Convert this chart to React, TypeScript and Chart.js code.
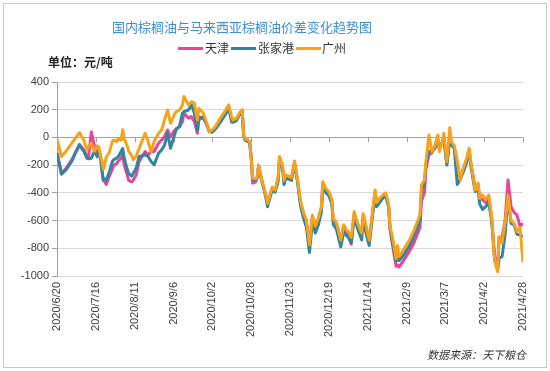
import React, { useEffect, useRef } from "react";
import { Chart, registerables } from "chart.js";

Chart.register(...registerables);

// day offsets from 2020/6/20
const days = [0,3,6,10,12,15,18,20,21,23,25,27,28,29,30,31,32,33,35,37,38,40,41,43,44,45,47,48,50,51,53,55,59,61,63,65,68,70,72,74,76,79,80,82,84,85,88,90,92,94,95,98,100,102,104,106,110,113,115,117,118,120,122,124,125,126,128,129,130,131,133,134,135,137,139,141,144,146,148,149,151,152,153,155,157,159,161,163,165,167,169,171,173,175,177,178,180,182,184,185,187,190,192,194,195,197,199,201,202,204,205,208,209,211,213,214,216,218,220,222,223,225,227,228,229,232,236,239,243,244,246,247,249,251,253,255,256,258,259,261,263,264,266,268,270,272,274,276,277,279,280,282,283,285,287,289,291,293,295,296,298,300,302,304,306,308,310,312];

const guangzhou = [-10,-138,-100,-40,-10,35,-20,-90,-70,-40,-100,-60,-70,-130,-170,-230,-190,-140,-110,-30,-20,-30,-10,-20,55,-10,-60,-100,-130,-160,-138,-78,30,-30,-102,-30,30,54,126,198,102,175,186,198,234,295,234,258,246,126,210,175,114,42,54,78,150,198,235,140,126,135,175,200,20,-10,-18,-30,-138,-294,-300,-280,-198,-300,-380,-475,-360,-380,-290,-138,-200,-310,-270,-280,-290,-170,-300,-460,-540,-600,-775,-560,-640,-580,-500,-320,-370,-390,-450,-590,-610,-740,-630,-670,-680,-720,-535,-610,-640,-690,-550,-690,-740,-560,-380,-470,-440,-415,-400,-480,-644,-740,-873,-780,-860,-810,-740,-670,-560,-343,-307,-175,18,-102,-60,18,-102,-30,30,-175,70,-30,-60,-170,-307,-220,-160,-78,-175,-307,-380,-330,-440,-415,-450,-415,-572,-885,-969,-716,-760,-620,-415,-600,-620,-680,-650,-900];

const zhangjiagang = [-115,-265,-235,-170,-120,-55,-100,-150,-155,-150,-100,-140,-90,-130,-230,-310,-300,-310,-250,-175,-160,-150,-140,-100,-80,-150,-230,-260,-280,-260,-222,-138,-126,-138,-174,-198,-114,-90,-54,30,-78,30,60,78,175,186,198,234,175,54,150,138,100,42,40,60,120,170,210,110,110,120,160,190,10,-20,-30,-40,-145,-300,-310,-290,-210,-310,-395,-500,-380,-395,-320,-160,-220,-340,-300,-300,-310,-190,-320,-490,-580,-650,-830,-610,-690,-630,-540,-350,-400,-420,-480,-630,-660,-790,-680,-710,-720,-760,-570,-650,-680,-740,-600,-740,-780,-590,-410,-500,-470,-440,-420,-500,-660,-780,-890,-870,-890,-850,-780,-710,-600,-380,-330,-200,-100,-100,-80,-20,-60,-40,-10,-200,-20,-50,-80,-340,-300,-250,-190,-100,-200,-330,-390,-380,-480,-520,-500,-470,-600,-880,-960,-870,-860,-700,-430,-620,-630,-700,-700,-720];

const tianjin = [-110,-255,-225,-160,-115,-50,-90,-140,-150,40,-60,-110,-100,-130,-230,-310,-320,-340,-280,-230,-200,-190,-170,-150,-120,-200,-270,-310,-320,-310,-270,-174,-102,-126,-102,-102,-42,-18,6,54,6,54,65,78,115,175,140,150,114,30,126,150,100,42,40,65,130,180,215,120,120,125,165,195,15,-15,-25,-35,-140,-330,-320,-290,-205,-305,-385,-480,-370,-385,-300,-150,-210,-315,-280,-290,-300,-180,-305,-470,-550,-610,-790,-570,-650,-590,-510,-330,-380,-400,-460,-600,-620,-740,-640,-680,-700,-770,-550,-620,-650,-700,-560,-700,-745,-570,-390,-480,-450,-425,-410,-490,-660,-800,-930,-920,-935,-890,-820,-760,-650,-460,-400,-230,-126,-110,-70,-40,-80,-30,0,-190,20,-40,-70,-190,-300,-230,-170,-90,-185,-300,-370,-350,-440,-450,-470,-430,-580,-860,-920,-720,-720,-600,-307,-500,-540,-560,-640,-620];

const yTicks = [-1000, -800, -600, -400, -200, 0, 200, 400];
const startDate = Date.UTC(2020, 5, 20);

function dayLabel(d: number): string {
  const dt = new Date(startDate + d * 86400000);
  return `${dt.getUTCFullYear()}/${dt.getUTCMonth() + 1}/${dt.getUTCDate()}`;
}

const zeroTicks = {
  id: "zeroTicks",
  beforeDatasetsDraw(chart: any) {
    const xs = chart.scales.x;
    const ys = chart.scales.y;
    const ctx = chart.ctx;
    const y0 = ys.getPixelForValue(0);
    ctx.save();
    ctx.strokeStyle = "#a0a0a0";
    ctx.lineWidth = 1;
    ctx.beginPath();
    for (const t of xs.ticks) {
      const x = Math.round(xs.getPixelForValue(t.value)) + 0.5;
      ctx.moveTo(x, y0);
      ctx.lineTo(x, y0 + 5);
    }
    ctx.stroke();
    ctx.restore();
  },
};

export default function App() {
  const ref = useRef<HTMLCanvasElement>(null);
  useEffect(() => {
    document.body.style.margin = "0";
    const mk = (arr: number[]) => days.map((d, i) => ({ x: d, y: arr[i] }));
    const chart = new Chart(ref.current!, {
      type: "line",
      data: {
        datasets: [
          { label: "天津", data: mk(tianjin), borderColor: "#e8449a", order: 2 },
          { label: "张家港", data: mk(zhangjiagang), borderColor: "#31859c", order: 1 },
          { label: "广州", data: mk(guangzhou), borderColor: "#f7a21c", order: 0 },
        ].map((d) => ({
          ...d,
          borderWidth: 3,
          pointRadius: 0,
          tension: 0,
          fill: false,
          borderJoinStyle: "round" as const,
        })),
      },
      options: {
        animation: false,
        responsive: false,
        devicePixelRatio: 1,
        layout: { padding: { top: 82, right: 27, bottom: 30, left: 0 } },
        plugins: { legend: { display: false }, tooltip: { enabled: false }, title: { display: false } },
        scales: {
          x: {
            type: "linear",
            min: 0,
            max: 312,
            grid: { display: false, drawTicks: false },
            border: { display: false },
            afterFit: (s: any) => { s.height = 65; },
            afterBuildTicks: (s: any) => {
              const t = [];
              for (let v = 0; v <= 312; v += 26) t.push({ value: v });
              s.ticks = t;
            },
            ticks: {
              autoSkip: false,
              maxRotation: 90,
              minRotation: 90,
              padding: 6,
              color: "#404040",
              font: { family: "'Liberation Sans', Arial", size: 11 },
              callback: (v: any) => dayLabel(Number(v)),
            },
          },
          y: {
            min: -1000,
            max: 400,
            afterFit: (s: any) => { s.width = 57; },
            afterBuildTicks: (s: any) => { s.ticks = yTicks.map((v) => ({ value: v })); },
            grid: {
              color: (c: any) => (c.tick && c.tick.value === 0 ? "#a6a6a6" : "#d9d9d9"),
              tickLength: 5,
              tickColor: "#a0a0a0",
            },
            border: { display: true, color: "#a0a0a0" },
            ticks: {
              padding: 3,
              color: "#404040",
              font: { family: "'Liberation Sans', Arial", size: 11 },
              callback: (v: any) => String(v),
            },
          },
        },
      },
      plugins: [zeroTicks],
    });
    return () => chart.destroy();
  }, []);

  const cjk = "'Noto Sans CJK SC', 'Noto Sans', sans-serif";
  const legendItem = (left: number, color: string, textLeft: number, text: string) => (
    <>
      <div style={{ position: "absolute", left, top: 47, width: 25, height: 3, background: color }} />
      <div style={{ position: "absolute", left: textLeft, top: 40, fontSize: 12, lineHeight: "16px", color: "#333", fontFamily: cjk, whiteSpace: "nowrap" }}>{text}</div>
    </>
  );

  return (
    <div style={{ position: "relative", width: 550, height: 371, background: "#fff", overflow: "hidden" }}>
      <div style={{ position: "absolute", left: 3, top: 3, width: 542, height: 363, border: "1px solid #c8c8c8" }} />
      <canvas ref={ref} width={550} height={371} style={{ position: "absolute", left: 0, top: 0, width: 550, height: 371 }} />
      <div style={{ position: "absolute", left: 112, top: 18, fontSize: 13, lineHeight: "18px", color: "#3f8fd5", fontFamily: cjk, whiteSpace: "nowrap" }}>
        国内棕榈油与马来西亚棕榈油价差变化趋势图
      </div>
      {legendItem(178, "#e8449a", 205, "天津")}
      {legendItem(231, "#31859c", 258, "张家港")}
      {legendItem(296, "#f7a21c", 322, "广州")}
      <div style={{ position: "absolute", left: 48, top: 54, fontSize: 12, lineHeight: "16px", fontWeight: "bold", color: "#222", fontFamily: cjk, whiteSpace: "nowrap" }}>
        单位：元/吨
      </div>
      <div style={{ position: "absolute", left: 427, top: 347, fontSize: 11, lineHeight: "15px", fontStyle: "italic", color: "#333", fontFamily: cjk, whiteSpace: "nowrap" }}>
        数据来源：天下粮仓
      </div>
    </div>
  );
}
